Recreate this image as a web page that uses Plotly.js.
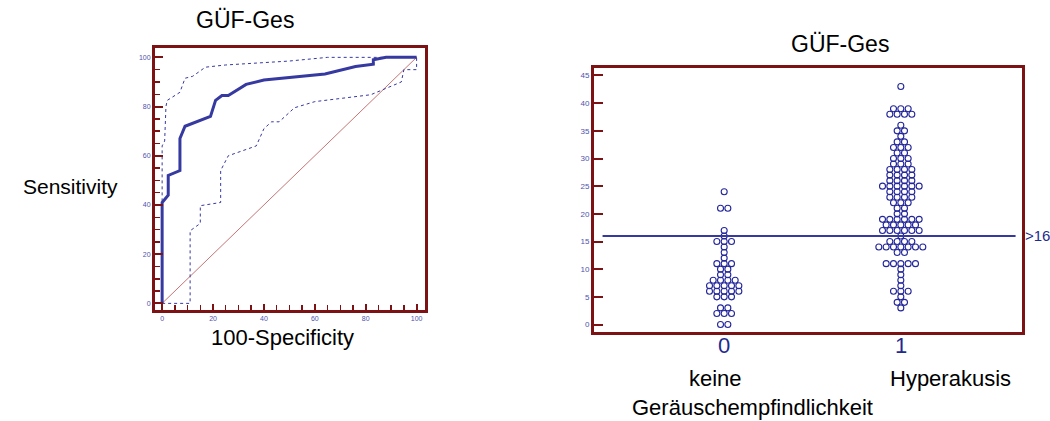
<!DOCTYPE html>
<html>
<head>
<meta charset="utf-8">
<script src="https://cdn.plot.ly/plotly-3.0.1.min.js"></script>
<style>
  html, body { margin: 0; padding: 0; background: #ffffff; }
  #chart { width: 1050px; height: 421px; }
</style>
</head>
<body>
<div id="chart"></div>
<script>
// ---------------- ROC curve data (100-Specificity vs Sensitivity) ----------------
const rocX = [0, 0, 2.4, 2.4, 7, 7, 9, 19, 21, 23.5, 26, 33, 40, 64, 76, 83, 83, 88, 100];
const rocY = [0, 41, 44, 52, 54, 67, 72, 76, 82.5, 84.5, 84.5, 89, 90.8, 93.2, 96.3, 97.2, 99, 100, 100];

const ciUpperX = [0, 0, 0, 1, 1.5, 2, 7, 9, 12, 17, 25, 50, 65, 100];
const ciUpperY = [0, 42, 64, 66, 80, 82.5, 85.8, 91.5, 92.3, 96, 96.9, 98.5, 100, 100];

const ciLowerX = [0, 11, 11, 15, 15, 23, 23, 26, 37, 40, 43, 46, 52, 60, 82, 90, 94, 95, 100, 100];
const ciLowerY = [0, 0, 29.5, 32.5, 39.7, 41, 54, 60, 64, 71, 73.8, 73.8, 79.5, 82, 84.8, 88.3, 90, 95, 95, 100];

const diagX = [0, 100];
const diagY = [0, 100];

// ---------------- Dot plot data (GÜF-Ges by group) ----------------
const groupCodes = [0, 1];
const groupCodeLabels = ['0', '1'];
const groupNames = ['keine', 'Hyperakusis'];
const cutoffValue = 16;
const cutoffLabel = '>16';

const group0Values = [
  24, 21, 21, 17, 16, 15, 15, 15, 14, 13, 12, 11, 11, 11, 10, 10, 9, 9,
  8, 8, 8, 8, 7, 7, 7, 7, 7, 6, 6, 6, 6, 6, 5, 5, 5, 3, 3, 2, 2, 2, 0, 0
];
const group1Values = [
  43, 39, 39, 39, 38, 38, 38, 38, 36, 35, 35, 34, 33, 33, 32, 32, 32, 31, 31,
  30, 30, 30, 29, 29, 29, 28, 28, 28, 28, 27, 27, 27, 27, 26, 26, 26, 26,
  25, 25, 25, 25, 25, 25, 24, 24, 24, 24, 23, 23, 23, 23, 22, 22, 22, 21, 21,
  20, 20, 19, 19, 19, 19, 19, 19, 18, 18, 18, 18, 18, 17, 17, 17, 17, 17, 17,
  16, 15, 15, 15, 15, 14, 14, 14, 14, 14, 14, 14, 13, 13,
  11, 11, 11, 11, 11, 10, 9, 8, 7, 6, 6, 6, 5, 4, 4, 3
];

// beeswarm layout: stack equal values side by side around the group position
function swarm(values, center, step) {
  const counts = {};
  values.forEach(v => { counts[v] = (counts[v] || 0) + 1; });
  const xs = [], ys = [];
  Object.keys(counts).forEach(k => {
    const n = counts[k];
    for (let i = 0; i < n; i++) {
      xs.push(center + (i - (n - 1) / 2) * step);
      ys.push(Number(k));
    }
  });
  return { x: xs, y: ys };
}

const STEP = 0.0415;
const s0 = swarm(group0Values, groupCodes[0], STEP);
const s1 = swarm(group1Values, groupCodes[1], STEP);

const NAVY = '#24279a';
const LINEBLUE = '#3539a0';
const FRAME = '#7d1215';
const TICKTXT = '#4e52ae';
const FONT = 'Liberation Sans, Arial, sans-serif';

const traces = [
  { x: diagX, y: diagY, xaxis: 'x', yaxis: 'y', mode: 'lines',
    line: { color: '#b85050', width: 0.8 }, hoverinfo: 'skip' },
  { x: ciLowerX, y: ciLowerY, xaxis: 'x', yaxis: 'y', mode: 'lines',
    line: { color: LINEBLUE, width: 1, dash: 'dot' } },
  { x: ciUpperX, y: ciUpperY, xaxis: 'x', yaxis: 'y', mode: 'lines',
    line: { color: LINEBLUE, width: 1, dash: 'dot' } },
  { x: rocX, y: rocY, xaxis: 'x', yaxis: 'y', mode: 'lines',
    line: { color: LINEBLUE, width: 3 } },
  { x: s0.x, y: s0.y, xaxis: 'x2', yaxis: 'y2', mode: 'markers',
    marker: { symbol: 'circle-open', size: 6, color: NAVY, line: { width: 1.1, color: NAVY } } },
  { x: s1.x, y: s1.y, xaxis: 'x2', yaxis: 'y2', mode: 'markers',
    marker: { symbol: 'circle-open', size: 6, color: NAVY, line: { width: 1.1, color: NAVY } } }
];

const W = 1050, H = 421;
const px = v => v / W;
const py = v => 1 - v / H;

const frameAxis = {
  showline: true, mirror: true, linecolor: FRAME, linewidth: 3,
  showgrid: false, zeroline: false, fixedrange: true
};

const annotations = [
  { text: 'GÜF-Ges', xref: 'paper', yref: 'paper', x: px(245), y: py(20),
    xanchor: 'center', yanchor: 'middle', showarrow: false, font: { size: 23, color: '#000' } },
  { text: 'Sensitivity', xref: 'paper', yref: 'paper', x: px(70), y: py(187),
    xanchor: 'center', yanchor: 'middle', showarrow: false, font: { size: 21, color: '#000' } },
  { text: '100-Specificity', xref: 'paper', yref: 'paper', x: px(282), y: py(337),
    xanchor: 'center', yanchor: 'middle', showarrow: false, font: { size: 22, color: '#000' } },
  { text: 'GÜF-Ges', xref: 'paper', yref: 'paper', x: px(840), y: py(44),
    xanchor: 'center', yanchor: 'middle', showarrow: false, font: { size: 23, color: '#000' } },
  { text: cutoffLabel, xref: 'paper', yref: 'y2', x: px(1023), y: cutoffValue,
    xanchor: 'left', yanchor: 'middle', showarrow: false, font: { size: 15, color: '#1f2a8f' } },
  { text: groupNames[0], xref: 'x2', yref: 'paper', x: groupCodes[0] - 0.05, y: py(378),
    xanchor: 'center', yanchor: 'middle', showarrow: false, font: { size: 22, color: '#000' } },
  { text: groupNames[1], xref: 'x2', yref: 'paper', x: groupCodes[1] + 0.28, y: py(378),
    xanchor: 'center', yanchor: 'middle', showarrow: false, font: { size: 22, color: '#000' } },
  { text: 'Geräuschempfindlichkeit', xref: 'paper', yref: 'paper', x: px(752), y: py(407),
    xanchor: 'center', yanchor: 'middle', showarrow: false, font: { size: 22, color: '#000' } }
];
// category code labels under the dot plot
groupCodes.forEach((c, i) => {
  annotations.push({ text: groupCodeLabels[i], xref: 'x2', yref: 'paper', x: c, y: py(345),
    xanchor: 'center', yanchor: 'middle', showarrow: false, font: { size: 22, color: '#1f2a8f' } });
});

const layout = {
  width: W, height: H,
  margin: { l: 0, r: 0, t: 0, b: 0 },
  paper_bgcolor: '#ffffff', plot_bgcolor: '#ffffff',
  showlegend: false,
  font: { family: FONT, color: '#000000' },
  xaxis: Object.assign({}, frameAxis, {
    domain: [px(155), px(425)], range: [-2.8, 103.3], anchor: 'y',
    tickvals: [0, 20, 40, 60, 80, 100],
    ticks: 'inside', ticklen: 6, tickwidth: 2, tickcolor: FRAME,
    minor: { dtick: 5, tick0: 0, ticks: 'inside', ticklen: 5, tickwidth: 1.5, tickcolor: FRAME },
    tickfont: { size: 7, color: TICKTXT, family: FONT }
  }),
  yaxis: Object.assign({}, frameAxis, {
    domain: [py(310), py(48)], range: [-2.7, 103.8], anchor: 'x',
    tickvals: [0, 20, 40, 60, 80, 100],
    ticks: 'inside', ticklen: 8, tickwidth: 2, tickcolor: FRAME,
    minor: { dtick: 5, tick0: 0, ticks: 'inside', ticklen: 5, tickwidth: 1.5, tickcolor: FRAME },
    tickfont: { size: 7, color: TICKTXT, family: FONT }
  }),
  xaxis2: Object.assign({}, frameAxis, {
    domain: [px(594), px(1022)], range: [-0.737, 1.686], anchor: 'y2',
    tickvals: groupCodes, ticks: '', showticklabels: false
  }),
  yaxis2: Object.assign({}, frameAxis, {
    domain: [py(331.7), py(68.3)], range: [-1.3, 46.3], anchor: 'x2',
    tick0: 0, dtick: 5,
    ticks: 'inside', ticklen: 9, tickwidth: 2, tickcolor: FRAME,
    tickfont: { size: 8, color: TICKTXT, family: FONT }
  }),
  shapes: [
    { type: 'line', xref: 'x2 domain', yref: 'y2', x0: 0.02, x1: 0.985,
      y0: cutoffValue, y1: cutoffValue, line: { color: LINEBLUE, width: 2 } }
  ],
  annotations: annotations
};

Plotly.newPlot('chart', traces, layout, { staticPlot: true, displayModeBar: false });
</script>
</body>
</html>
